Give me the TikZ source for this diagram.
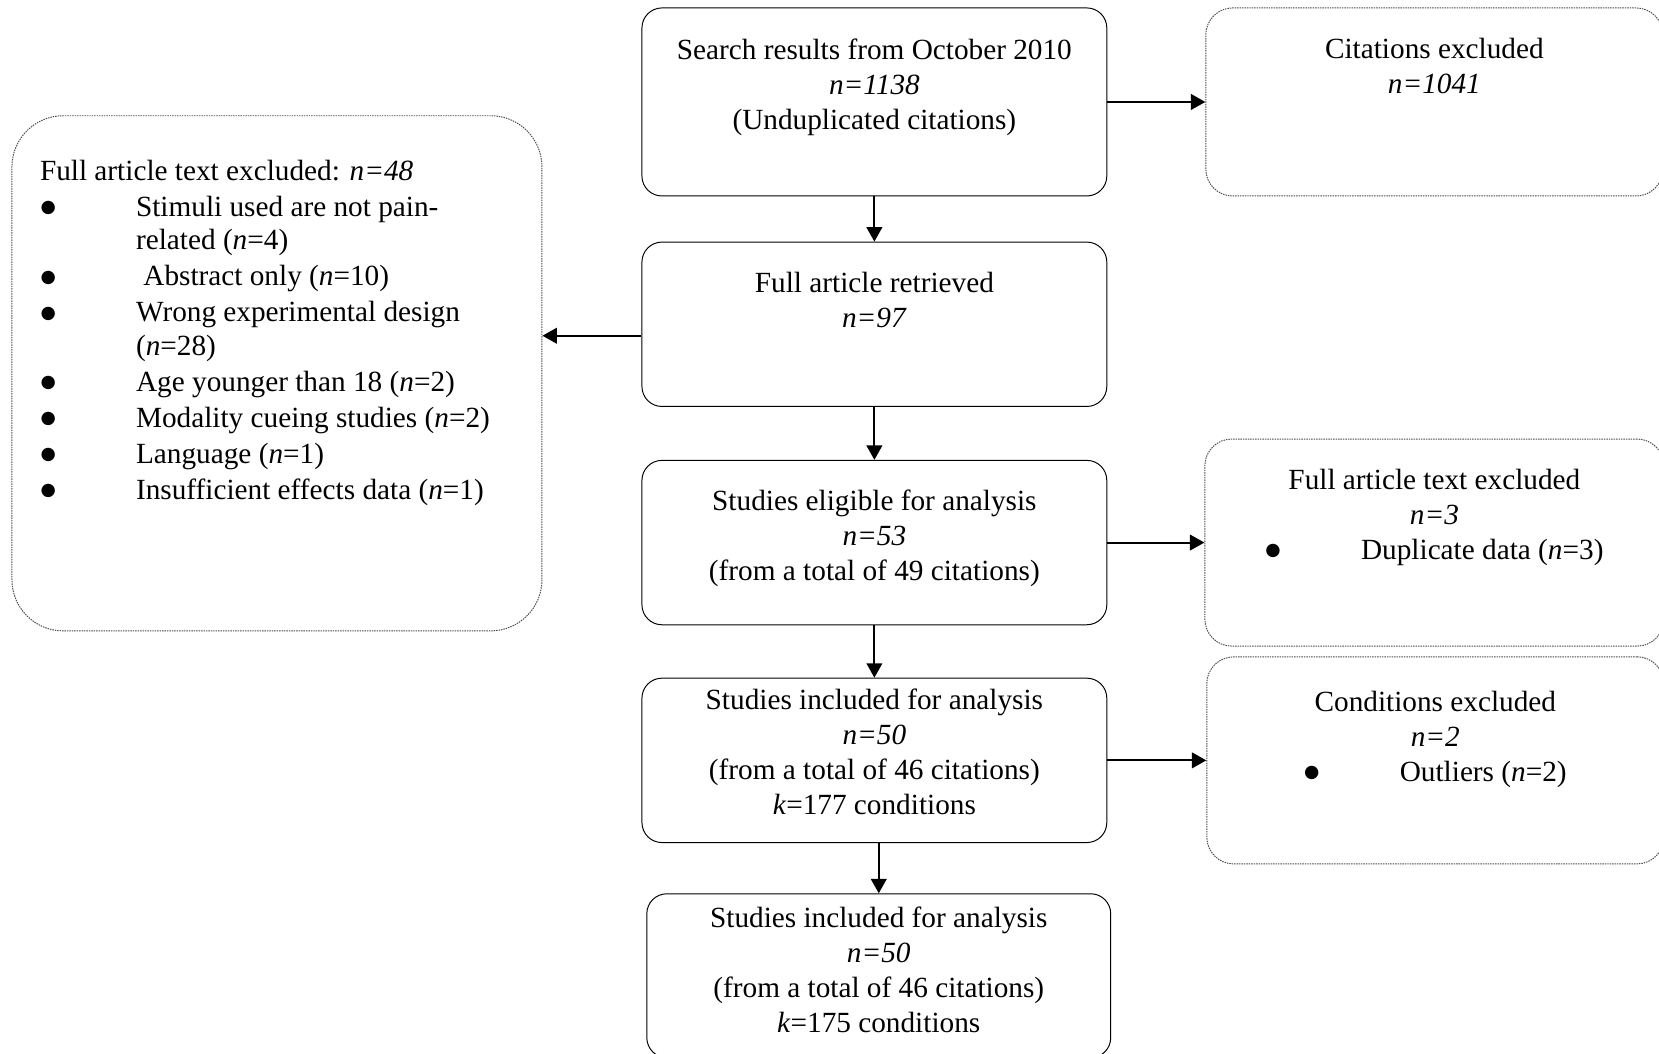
\documentclass[tikz,border=0pt]{standalone}
\usepackage{fontspec}
\setmainfont{Liberation Serif}
\newfontfamily\symfont{DejaVu Sans}
\usetikzlibrary{positioning,arrows.meta}

% box text: width, height, top gap, lines
\newcommand{\boxtext}[4]{\parbox[c][#2][t]{#1}{\centering\vspace*{#3}\strut #4\par}}
% big bullet
\newcommand{\blt}{\raisebox{1.5pt}{\symfont\fontsize{7.2}{7.2}\selectfont ●}}

\begin{document}
\begin{tikzpicture}[->,>={Triangle[length=5.9pt,width=6.4pt]},line width=0.8pt,node distance=20pt]

	\tikzstyle{every node}=[font=\fontsize{12}{14.35}\selectfont,inner sep=0pt]
	
	\tikzstyle{main box}=[rectangle,rounded corners=8.2pt,draw,line width=0.4pt]
	\tikzstyle{excl box}=[rectangle,rounded corners=11pt,draw=black!70,line width=0.4pt,dash pattern=on 0.6pt off 0.4pt]
	
	\useasboundingbox (0,0) rectangle (680.2pt,-432.1pt);
	
	\node[main box] (search) at (358.5pt,-41.8pt) {\boxtext{190.6pt}{77.1pt}{11.1pt}{Search results from October 2010\\ \textit{n=1138}\\ (Unduplicated citations)}};
	\node[main box] (retr) [below=18.5pt of search] {\boxtext{190.6pt}{67.4pt}{10.7pt}{Full article retrieved\\ \textit{n=97}}};
	\node[main box] (elig) [below=21.7pt of retr] {\boxtext{190.6pt}{67.4pt}{10.7pt}{Studies eligible for analysis\\ \textit{n=53}\\ (from a total of 49 citations)}};
	\node[main box] (incl) [below=21.5pt of elig] {\boxtext{190.6pt}{67.4pt}{3pt}{Studies included for analysis\\ \textit{n=50}\\ (from a total of 46 citations)\\ \textit{k}=177 conditions}};
	\node[main box] (final) [below=20.6pt of incl, xshift=1.8pt] {\boxtext{190.2pt}{67.2pt}{3.8pt}{Studies included for analysis\\ \textit{n=50}\\ (from a total of 46 citations)\\ \textit{k}=175 conditions}};
	
	\node[excl box] (cit) [right=40.2pt of search] {\boxtext{187.4pt}{77.1pt}{10.7pt}{Citations excluded\\ \textit{n=1041}}};
	\node[excl box] (fte) [right=39.8pt of elig] {\boxtext{188.2pt}{84.9pt}{10.6pt}{Full article text excluded\\ \textit{n=3}\\ \blt\hspace{33pt}Duplicate data (\textit{n}=3)}};
	\node[excl box] (cond) [right=40.6pt of incl] {\boxtext{187.4pt}{84.9pt}{12.3pt}{Conditions excluded\\ \textit{n=2}\\ \blt\hspace{33pt}Outliers (\textit{n}=2)}};
	
	\node[excl box, rounded corners=21pt] (ftl) [left=40.6pt of retr, yshift=-20.1pt] {\parbox[c][211.2pt][t]{217.3pt}{\fontsize{12}{13.6}\selectfont\vspace*{17.2pt}%
		\begin{tabular}[t]{@{\hspace{11.8pt}}l@{\hspace{32.8pt}}l}
			\multicolumn{2}{@{\hspace{11.5pt}}l}{Full article text excluded: \textit{n=48}}\\[1pt]
			\blt & Stimuli used are not pain-\\
			& related (\textit{n}=4)\\[1.2pt]
			\blt & \ Abstract only (\textit{n}=10)\\[1.2pt]
			\blt & Wrong experimental design\\
			& (\textit{n}=28)\\[1.2pt]
			\blt & Age younger than 18 (\textit{n}=2)\\[1.2pt]
			\blt & Modality cueing studies (\textit{n}=2)\\[1.2pt]
			\blt & Language (\textit{n}=1)\\[1.2pt]
			\blt & Insufficient effects data (\textit{n}=1)
		\end{tabular}}};
	
	\path (search) edge (retr)
	(retr) edge (elig)
	(elig) edge (incl)
	(final.north |- incl.south) edge (final.north)
	(search.east) edge (search.east -| cit.west)
	(elig.east) edge (elig.east -| fte.west)
	(incl.east) edge (incl.east -| cond.west)
	([yshift=-4.7pt]retr.west) edge ([yshift=-4.7pt]retr.west -| ftl.east);
	
\end{tikzpicture}
\end{document}
